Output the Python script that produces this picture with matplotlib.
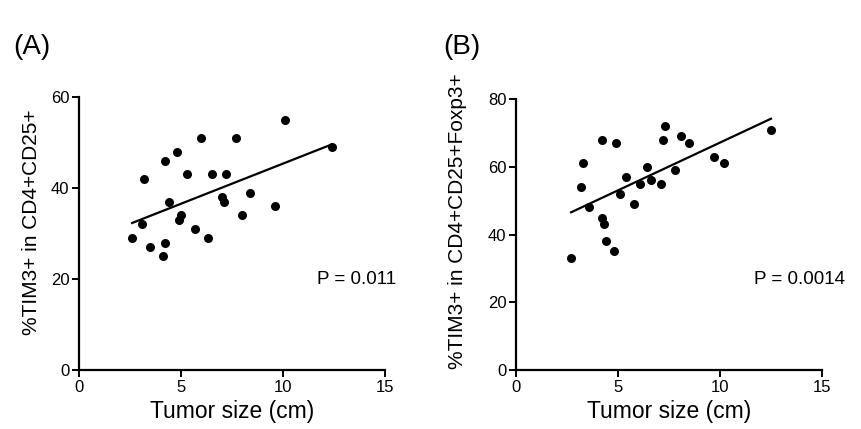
import numpy as np
import matplotlib
matplotlib.use("Agg")
import matplotlib.pyplot as plt

plt.rcParams["font.family"] = ["Liberation Sans", "DejaVu Sans"]

# Panel A: tumor size vs %TIM3+ in CD4+CD25+
size_a = [10.1, 6.0, 7.7, 12.4, 4.8, 4.2, 3.2, 5.3, 6.5, 7.2, 8.4, 4.4, 7.0,
          7.1, 9.6, 8.0, 5.0, 4.9, 3.1, 5.7, 2.6, 6.3, 4.2, 3.5, 4.1]
tim3_a = [55, 51, 51, 49, 48, 46, 42, 43, 43, 43, 39, 37, 38,
          37, 36, 34, 34, 33, 32, 31, 29, 29, 28, 27, 25]

# Panel B: tumor size vs %TIM3+ in CD4+CD25+Foxp3+
size_b = [12.5, 7.3, 4.2, 4.9, 7.2, 8.1, 8.5, 3.3, 9.7, 10.2, 6.4, 7.8, 5.4,
          3.2, 6.1, 6.6, 7.1, 5.1, 5.8, 3.6, 4.2, 4.3, 4.4, 4.8, 2.7]
tim3_b = [71, 72, 68, 67, 68, 69, 67, 61, 63, 61, 60, 59, 57,
          54, 55, 56, 55, 52, 49, 48, 45, 43, 38, 35, 33]

panels = [
    ("(A)", size_a, tim3_a, "%TIM3+ in CD4+CD25+", [0, 20, 40, 60], "P = 0.011", 20),
    ("(B)", size_b, tim3_b, "%TIM3+ in CD4+CD25+Foxp3+", [0, 20, 40, 60, 80], "P = 0.0014", 26.8),
]

fig = plt.figure(figsize=(8.61, 4.29), dpi=100)
boxes = [[0.0918, 0.1375, 0.3554, 0.6364], [0.5993, 0.1375, 0.3554, 0.6317]]
letter_x = [0.015, 0.515]
ylab_pos = [(-0.125, 0.54), (-0.16, 0.55)]

for (tag, xs, ys, ylab, yticks, ptxt, py), box, lx, lp in zip(panels, boxes, letter_x, ylab_pos):
    ax = fig.add_axes(box)
    ax.scatter(xs, ys, s=30, color="black", zorder=3, clip_on=False)
    # least-squares fit line across the observed range
    k, b = np.polyfit(xs, ys, 1)
    xl = np.array([min(xs), max(xs)])
    ax.plot(xl, k * xl + b, color="black", lw=1.6)

    ax.set_xlim(0, 15)
    ax.set_ylim(0, yticks[-1])
    ax.set_xticks([0, 5, 10, 15])
    ax.set_yticks(yticks)
    for s in ("top", "right"):
        ax.spines[s].set_visible(False)
    for s in ("left", "bottom"):
        ax.spines[s].set_linewidth(1.6)
    ax.tick_params(direction="out", length=5, width=1.4, labelsize=12, pad=2)
    ax.set_xlabel("Tumor size (cm)", fontsize=16.5, labelpad=4)
    ax.set_ylabel(ylab, fontsize=15)
    ax.yaxis.set_label_coords(*lp)
    ax.text(11.65, py, ptxt, fontsize=13.5, va="center", ha="left")
    fig.text(lx, 0.89, tag, fontsize=20, va="center", ha="left")

fig.savefig("out.png", dpi=100)
